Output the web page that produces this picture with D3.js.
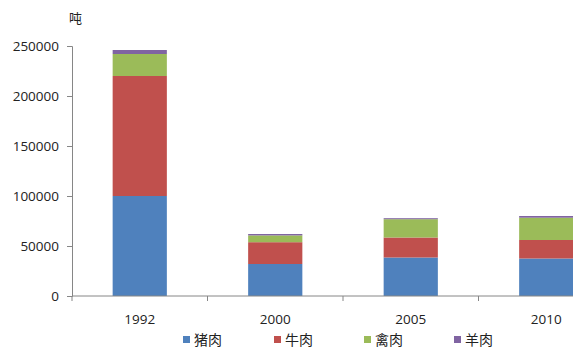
<!DOCTYPE html>
<html><head><meta charset="utf-8">
<script src="https://cdn.jsdelivr.net/npm/d3@7"></script>
<style>body{margin:0;background:#fff}svg{display:block}</style>
</head><body>
<script>
const years = ["1992", "2000", "2005", "2010"];
const seriesNames = ["猪肉", "牛肉", "禽肉", "羊肉"];
const pork = [100000, 32000, 38500, 37500];
const beef = [120000, 21800, 20000, 18500];
const poultry = [22000, 6800, 18300, 22300];
const mutton = [4000, 1400, 1000, 1700];
const yTicks = [0, 50000, 100000, 150000, 200000, 250000];
const colors = ["#4F81BD", "#C0504D", "#9BBB59", "#8064A2"];

const W = 573, H = 354;
const svg = d3.select("body").append("svg").attr("width", W).attr("height", H);
const font = "'Open Sans', 'Liberation Sans', Arial, sans-serif";
const cjk = "'Noto Sans CJK SC', sans-serif";

const rows = years.map((y, i) => ({year: y, "猪肉": pork[i], "牛肉": beef[i], "禽肉": poultry[i], "羊肉": mutton[i]}));
const stacked = d3.stack().keys(seriesNames)(rows);

const x = d3.scaleBand().domain(years).range([72, 614]).paddingInner(0.6).paddingOuter(0.3);
const y = d3.scaleLinear().domain([0, 250000]).range([296, 46]);

const axisColor = "#868686";

// bars
svg.append("g").selectAll("g").data(stacked).join("g")
  .attr("fill", (d, i) => colors[i])
  .selectAll("rect").data(d => d).join("rect")
  .attr("x", d => x(d.data.year))
  .attr("width", x.bandwidth())
  .attr("y", d => y(d[1]))
  .attr("height", d => y(d[0]) - y(d[1]));

// y axis
const ya = svg.append("g").attr("transform", "translate(72,0)")
  .call(d3.axisLeft(y).tickValues(yTicks).tickFormat(d3.format("d")).tickSize(5).tickPadding(8));
ya.select(".domain").attr("stroke", axisColor);
ya.selectAll(".tick line").attr("stroke", axisColor);
ya.selectAll("text").attr("font-family", font).attr("font-size", 13.5).attr("fill", "#222");

// x axis
const step = x.step();
const xa = svg.append("g").attr("transform", "translate(0,296)");
xa.append("line").attr("x1", 72).attr("x2", 614).attr("stroke", axisColor);
xa.selectAll("line.t").data(d3.range(years.length + 1)).join("line").attr("class", "t")
  .attr("x1", i => 72 + i * step).attr("x2", i => 72 + i * step)
  .attr("y1", 0).attr("y2", 5).attr("stroke", axisColor);
xa.selectAll("text").data(years).join("text")
  .attr("x", d => x(d) + x.bandwidth() / 2).attr("y", 28)
  .attr("text-anchor", "middle").attr("font-family", font).attr("font-size", 13.5).attr("fill", "#222")
  .text(d => d);

// unit label
svg.append("text").attr("x", 69).attr("y", 23).attr("font-family", cjk).attr("font-size", 13).attr("fill", "#222").text("吨");

// legend
const legX = [183, 274, 364, 454];
const leg = svg.append("g").selectAll("g").data(seriesNames).join("g")
  .attr("transform", (d, i) => `translate(${legX[i]},340)`);
leg.append("rect").attr("x", 0).attr("y", -4).attr("width", 7).attr("height", 7).attr("fill", (d, i) => colors[i]);
leg.append("text").attr("x", 11).attr("y", 5).attr("font-family", cjk).attr("font-size", 14).attr("fill", "#222").text(d => d);
</script>
</body></html>
